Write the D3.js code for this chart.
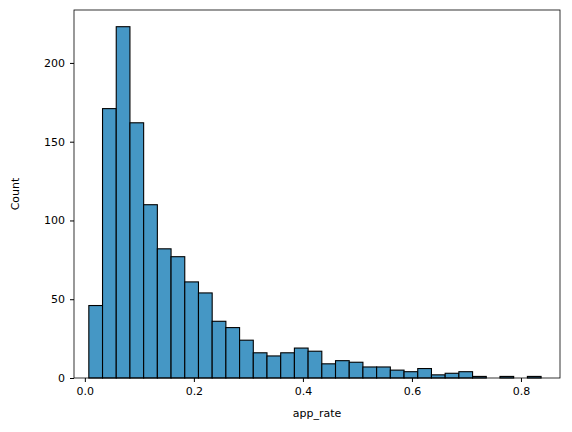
<!DOCTYPE html>
<html><head><meta charset="utf-8">
<script src="https://cdn.jsdelivr.net/npm/d3@7"></script>
<style>body{margin:0;background:#fff}text{font-family:"DejaVu Sans",sans-serif}</style>
</head><body><div class="chart"></div>
<script>
var width = 572, height = 432;
var binStart = 0.0073, binWidth = 0.02514;
var counts = [46,171,223,162,110,82,77,61,54,36,32,24,16,14,16,19,17,9,11,10,7,7,5,4,6,2,3,4,1,0,1,0,1];
var xTicks = [0.0,0.2,0.4,0.6,0.8];
var yTicks = [0,50,100,150,200];

var padL = 74, padR = 560, padT = 10, padB = 378;
var svg = d3.select('.chart').append('svg').attr('width', width).attr('height', height);
var x = d3.scaleLinear().domain([-0.0199, 0.8716]).range([padL, padR]);
var y = d3.scaleLinear().domain([0, 233.6]).range([padB, padT]);

var bins = counts.map(function(c, i) {
  return {x0: binStart + i * binWidth, x1: binStart + (i + 1) * binWidth, n: c};
});

svg.selectAll('rect.bar').data(bins).enter().append('rect')
   .attr('class', 'bar')
   .attr('x', function(d) { return x(d.x0); })
   .attr('y', function(d) { return y(d.n); })
   .attr('width', function(d) { return x(d.x1) - x(d.x0); })
   .attr('height', function(d) { return y(0) - y(d.n); })
   .style('fill', '#4597c5')
   .style('stroke', '#000')
   .style('stroke-width', 1.1);

svg.append('g').attr('transform', 'translate(0,' + padB + ')')
   .call(d3.axisBottom(x).tickValues(xTicks).tickFormat(d3.format('.1f')).tickSize(4).tickPadding(5))
   .call(function(g) { g.select('.domain').remove(); g.selectAll('text').style('font-size', '11px').attr('fill', '#000'); });
svg.append('g').attr('transform', 'translate(' + padL + ',0)')
   .call(d3.axisLeft(y).tickValues(yTicks).tickSize(4).tickPadding(5))
   .call(function(g) { g.select('.domain').remove(); g.selectAll('text').style('font-size', '11px').attr('fill', '#000'); });

svg.append('rect').attr('x', padL).attr('y', padT).attr('width', padR - padL).attr('height', padB - padT)
   .style('fill', 'none').style('stroke', '#000').style('stroke-width', 0.8);

svg.append('text').attr('x', (padL + padR) / 2).attr('y', 417).attr('text-anchor', 'middle')
   .style('font-size', '11px').text('app_rate');
svg.append('text').attr('transform', 'translate(19,' + (padT + padB) / 2 + ') rotate(-90)')
   .attr('text-anchor', 'middle').style('font-size', '11px').text('Count');
</script></body></html>
